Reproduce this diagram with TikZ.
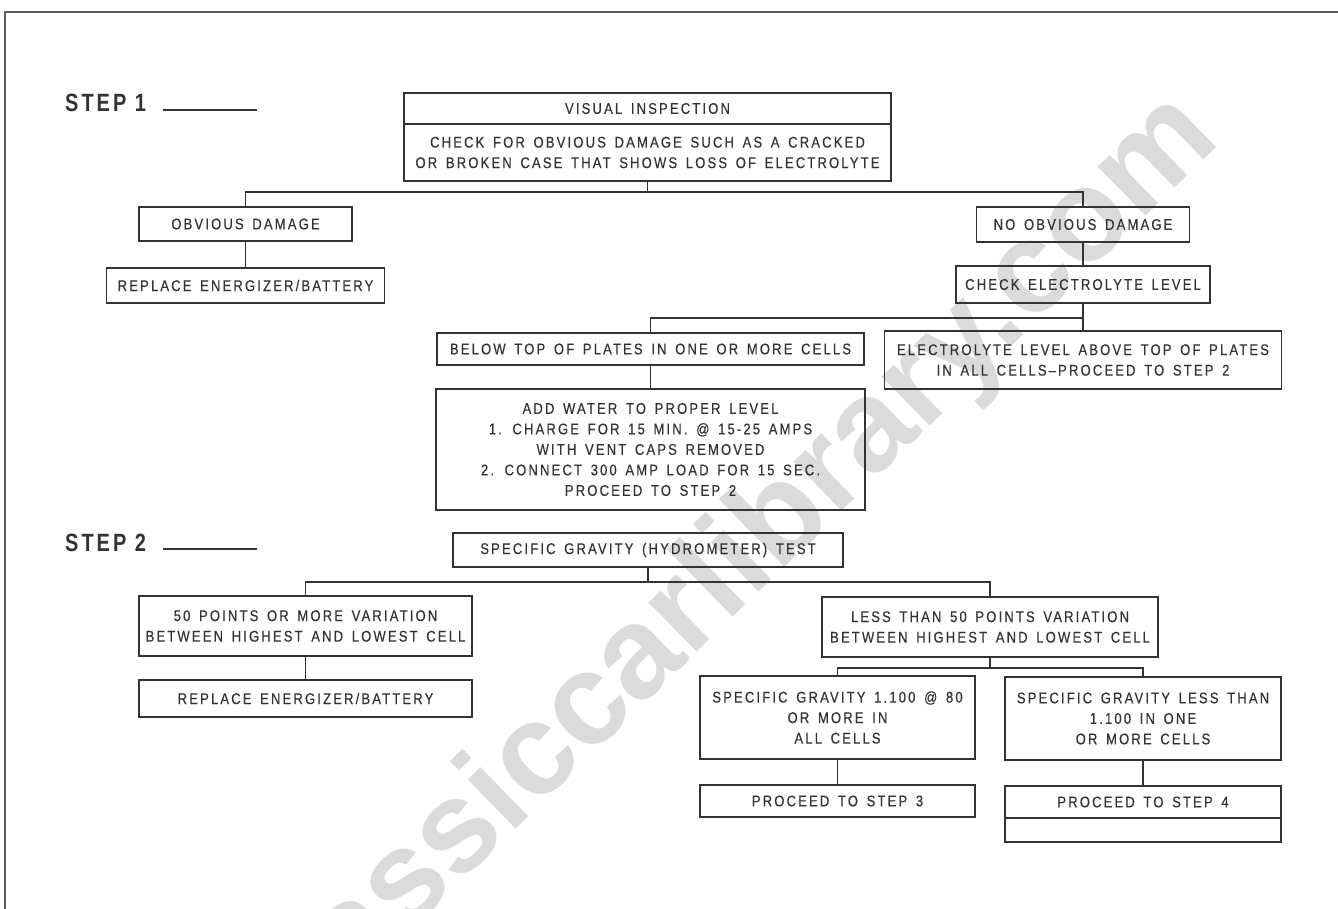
\documentclass[tikz,border=0pt]{standalone}
\usepackage{fontspec}
\setmainfont{Liberation Sans}[FakeStretch=0.84,LetterSpace=14,WordSpace=1.5,FakeBold=0.4]
\newfontfamily\stepfont{Liberation Sans}[FakeStretch=0.8,LetterSpace=12]
\newfontfamily\wmfont{Liberation Sans}
\definecolor{ink}{gray}{0.2}
\definecolor{wm}{gray}{0.86}
\tikzset{
  box/.style={draw=ink, line width=1.3pt, rectangle, inner sep=0pt, align=center,
    text=ink, font=\fontsize{15.5}{20.5}\selectfont},
  link/.style={draw=ink, line width=1.3pt},
  steplabel/.style={text=ink, font=\stepfont\bfseries\fontsize{25}{27}\selectfont, anchor=base west, inner sep=0pt},
  rule/.style={draw=ink, line width=1.3pt},
  frameline/.style={draw=ink!80, line width=2pt},
  watermark/.style={text=wm, font=\wmfont\bfseries\fontsize{130}{130}\selectfont, rotate=44.2, anchor=base west, inner sep=0pt}
}
\begin{document}
\begin{tikzpicture}[x=1pt,y=-1pt]
\useasboundingbox (0,0) rectangle (1338,909);
% watermark (behind the chart)
\begin{scope}
\clip (0,0) rectangle (1338,909);
\node[watermark] (wmk) at (276,1062) {classiccarlibrary.com};
\end{scope}
% frame
\coordinate (fa) at (5,909);
\coordinate (fb) at (5,12);
\coordinate (fc) at (1338,12);
\draw[frameline] (fa) -- (fb) -- (fc);
% step labels
\node[steplabel] (step1) at (65,112) {STEP 1};
\coordinate (u1a) at (163,110); \coordinate (u1b) at (257,110);
\draw[rule] (u1a) -- (u1b);
\node[steplabel] (step2) at (65,551) {STEP 2};
\coordinate (u2a) at (163,549); \coordinate (u2b) at (257,549);
\draw[rule] (u2a) -- (u2b);
% step 1 boxes
\node[box, minimum width=487pt, minimum height=31pt] (vitop) at (647.5,108.5) {VISUAL INSPECTION};
\node[box, minimum width=487pt, minimum height=57pt] (vibot) at (647.5,152.5) {CHECK FOR OBVIOUS DAMAGE SUCH AS A CRACKED\\OR BROKEN CASE THAT SHOWS LOSS OF ELECTROLYTE};
\node[box, minimum width=213pt, minimum height=34pt] (od) at (245.5,224) {OBVIOUS DAMAGE};
\node[box, minimum width=278pt, minimum height=35pt] (rep1) at (245.5,285.5) {REPLACE ENERGIZER/BATTERY};
\node[box, minimum width=213pt, minimum height=35pt] (nod) at (1083,224.5) {NO OBVIOUS DAMAGE};
\node[box, minimum width=254pt, minimum height=37pt] (cel) at (1083,284.5) {CHECK ELECTROLYTE LEVEL};
\node[box, minimum width=427pt, minimum height=32pt] (below) at (650.5,349) {BELOW TOP OF PLATES IN ONE OR MORE CELLS};
\node[box, minimum width=397pt, minimum height=58pt] (ela) at (1083,360) {ELECTROLYTE LEVEL ABOVE TOP OF PLATES\\IN ALL CELLS--PROCEED TO STEP 2};
\node[box, minimum width=429pt, minimum height=121pt] (add) at (650.5,449.5) {ADD WATER TO PROPER LEVEL\\1. CHARGE FOR 15 MIN. @ 15-25 AMPS\\WITH VENT CAPS REMOVED\\2. CONNECT 300 AMP LOAD FOR 15 SEC.\\PROCEED TO STEP 2};
% step 2 boxes
\node[box, minimum width=390pt, minimum height=34pt] (sg) at (648,550) {SPECIFIC GRAVITY (HYDROMETER) TEST};
\node[box, minimum width=333pt, minimum height=60pt] (p50) at (305.5,626) {50 POINTS OR MORE VARIATION\\BETWEEN HIGHEST AND LOWEST CELL};
\node[box, minimum width=333pt, minimum height=37pt] (rep2) at (305.5,698.5) {REPLACE ENERGIZER/BATTERY};
\node[box, minimum width=336pt, minimum height=60pt] (lt50) at (990,627) {LESS THAN 50 POINTS VARIATION\\BETWEEN HIGHEST AND LOWEST CELL};
\node[box, minimum width=275pt, minimum height=83pt] (sga) at (837.5,717.5) {SPECIFIC GRAVITY 1.100 @ 80\\OR MORE IN\\ALL CELLS};
\node[box, minimum width=276pt, minimum height=83pt] (sgb) at (1143,718.5) {SPECIFIC GRAVITY LESS THAN\\1.100 IN ONE\\OR MORE CELLS};
\node[box, minimum width=275pt, minimum height=32pt] (p3) at (837.5,801) {PROCEED TO STEP 3};
\node[box, minimum width=276pt, minimum height=32pt] (p4) at (1143,802) {PROCEED TO STEP 4};
\node[box, minimum width=276pt, minimum height=24pt] (p4x) at (1143,830) {};
% junctions
\coordinate (j1) at (vibot.south |- 0,192);
\coordinate (j2) at (cel.south |- 0,318);
\coordinate (j3) at (sg.south |- 0,582);
\coordinate (j4) at (lt50.south |- 0,668);
% connectors
\draw[link] (vibot.south) -- (j1);
\draw[link] (od.north) |- (j1) -| (nod.north);
\draw[link] (od.south) -- (rep1.north);
\draw[link] (nod.south) -- (cel.north);
\draw[link] (cel.south) -- (j2);
\draw[link] (below.north) |- (j2) -- (ela.north);
\draw[link] (below.south) -- (add.north);
\draw[link] (sg.south) -- (j3);
\draw[link] (p50.north) |- (j3) -| (lt50.north);
\draw[link] (p50.south) -- (rep2.north);
\draw[link] (lt50.south) -- (j4);
\draw[link] (sga.north) |- (j4) -| (sgb.north);
\draw[link] (sga.south) -- (p3.north);
\draw[link] (sgb.south) -- (p4.north);
\end{tikzpicture}
\end{document}
